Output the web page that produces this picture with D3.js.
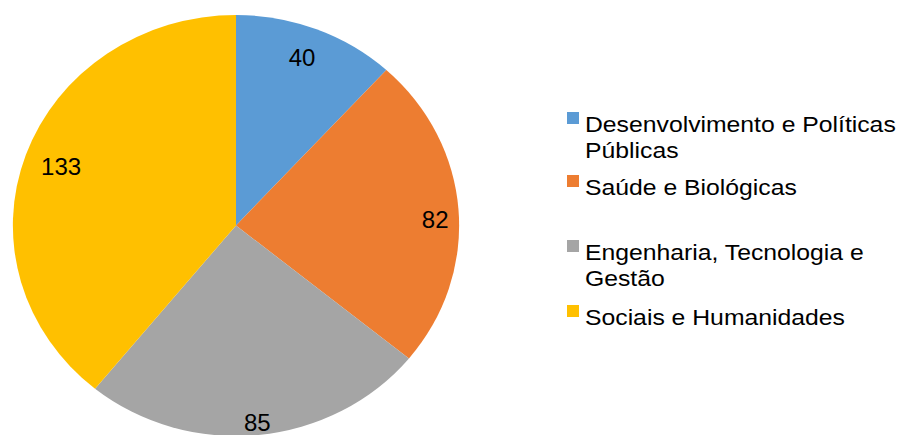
<!DOCTYPE html>
<html>
<head>
<meta charset="utf-8">
<script src="https://cdn.jsdelivr.net/npm/d3@7"></script>
<style>
  html, body { margin: 0; padding: 0; background: #fff; }
  svg { display: block; }
  text { font-family: "Liberation Sans", Arial, sans-serif; fill: #000; }
</style>
</head>
<body>
<svg id="chart" width="903" height="435"></svg>
<script>
// ---- data ----
const categories = [
  "Desenvolvimento e Políticas Públicas",
  "Saúde e Biológicas",
  "Engenharia, Tecnologia e Gestão",
  "Sociais e Humanidades"
];
const legendLines = [
  ["Desenvolvimento e Políticas", "Públicas"],
  ["Saúde e Biológicas"],
  ["Engenharia, Tecnologia e", "Gestão"],
  ["Sociais e Humanidades"]
];
const values = [40, 82, 85, 133];
const colors = ["#5B9BD5", "#ED7D31", "#A5A5A5", "#FFC000"];

// ---- layout ----
const cx = 236, cy = 225.5;
const R = 210.5;          // vertical radius
const SX = 1.06;          // horizontal stretch of the original picture
const labelFont = 24;
const labelRadius = [0.85, 0.893, 0.94, 0.832]; // fraction of R (Excel inside-end placement)
const labelShiftDeg = [-0.8, 2.5, 0, 0];         // small angular nudges of the labels

const svg = d3.select("#chart");

const pie = d3.pie().value(d => d).sort(null);
const arcs = pie(values);
const arc = d3.arc().innerRadius(0).outerRadius(R);

const pg = svg.append("g").attr("transform", `translate(${cx},${cy}) scale(${SX},1)`);
pg.selectAll("path.slice")
  .data(arcs)
  .enter().append("path")
  .attr("class", "slice")
  .attr("d", arc)
  .attr("fill", (d, i) => colors[i]);

// data labels
const lg = svg.append("g").attr("transform", `translate(${cx},${cy})`);
arcs.forEach((d, i) => {
  const r = R * labelRadius[i];
  const mid = (d.startAngle + d.endAngle) / 2 + labelShiftDeg[i] * Math.PI / 180;
  const x = Math.sin(mid) * r * SX;
  const y = -Math.cos(mid) * r;
  lg.append("text")
    .attr("text-anchor", "middle")
    .attr("font-size", labelFont)
    .attr("x", x)
    .attr("y", y + labelFont * 0.36)
    .text(values[i]);
});

// ---- legend ----
const legendX = 567, textX = 585;
const legendTop = [112, 175, 240, 305];
const lineH = 25.5;
const legFont = 22.5;
const legSX = 1.1;
const leg = svg.append("g");
categories.forEach((c, i) => {
  const g = leg.append("g").attr("transform", `translate(0,${legendTop[i]})`);
  g.append("rect")
    .attr("x", legendX).attr("y", 0)
    .attr("width", 12).attr("height", 12)
    .attr("fill", colors[i]);
  legendLines[i].forEach((ln, j) => {
    g.append("text")
      .attr("transform", `translate(${textX},${20 + j * lineH}) scale(${legSX},1)`)
      .attr("font-size", legFont)
      .text(ln);
  });
});
</script>
</body>
</html>
